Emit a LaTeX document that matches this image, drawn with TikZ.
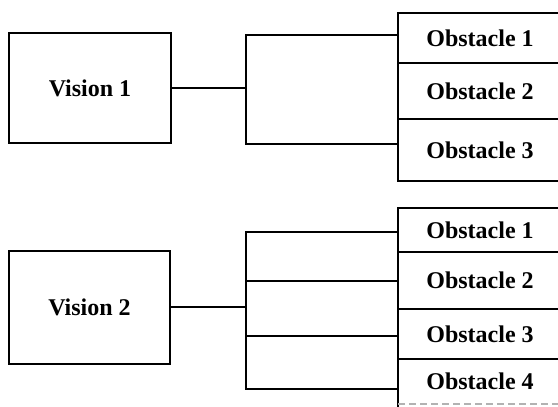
\documentclass[tikz,border=0pt]{standalone}
\usepackage{fontspec}
\setmainfont{Liberation Serif}
\begin{document}
\begin{tikzpicture}[x=1pt,y=-1pt,
  every node/.style={font=\fontsize{24}{28}\selectfont\bfseries},
  vision/.style={draw, line width=2pt, rectangle, inner sep=0pt, outer sep=0pt},
  obst/.style={draw, line width=2pt, rectangle, inner sep=0pt, outer sep=0pt,
               minimum width=164pt, anchor=north west},
  link/.style={line width=2pt}]
\useasboundingbox (0,0) rectangle (558,407);
\clip (0,0) rectangle (558,407);

% first vision and its three obstacles
\node[vision, minimum width=162pt, minimum height=110pt] (v1) at (90,88) {Vision 1};
\node[obst, minimum height=50pt] (o11) at (398,13) {Obstacle 1};
\node[obst, minimum height=56pt] (o12) at (398,63) {Obstacle 2};
\node[obst, minimum height=62pt] (o13) at (398,119) {Obstacle 3};
\coordinate (b1) at (246,88);
\coordinate (b1t) at (246,35);
\coordinate (b1b) at (246,144);
\draw[link] (v1.east) -- (b1);
\draw[link] (o11.west |- b1t) -- (b1t) -- (b1b) -- (o13.west |- b1b);

% second vision and its four obstacles
\node[vision, minimum width=161pt, minimum height=113pt] (v2) at (89.5,307) {Vision 2};
\node[obst, minimum height=44pt] (o21) at (398,208) {Obstacle 1};
\node[obst, minimum height=57pt] (o22) at (398,252) {Obstacle 2};
\node[obst, minimum height=50pt] (o23) at (398,309) {Obstacle 3};
\node[obst, draw=none, minimum height=45pt] (o24) at (398,359) {Obstacle 4};
\draw[link] (o24.north west) -- ([yshift=-4pt]o24.south west);
\draw[line width=1.2pt, gray!60, dash pattern=on 7pt off 4pt] (o24.south west) -- (o24.south east);
\coordinate (b2) at (246,307);
\coordinate (b2a) at (246,232);
\coordinate (b2b) at (246,281);
\coordinate (b2c) at (246,336);
\coordinate (b2d) at (246,389);
\draw[link] (v2.east) -- (b2);
\draw[link] (o21.west |- b2a) -- (b2a) -- (b2d) -- (o24.west |- b2d);
\draw[link] (b2b) -- (o22.west |- b2b);
\draw[link] (b2c) -- (o23.west |- b2c);
\end{tikzpicture}
\end{document}
